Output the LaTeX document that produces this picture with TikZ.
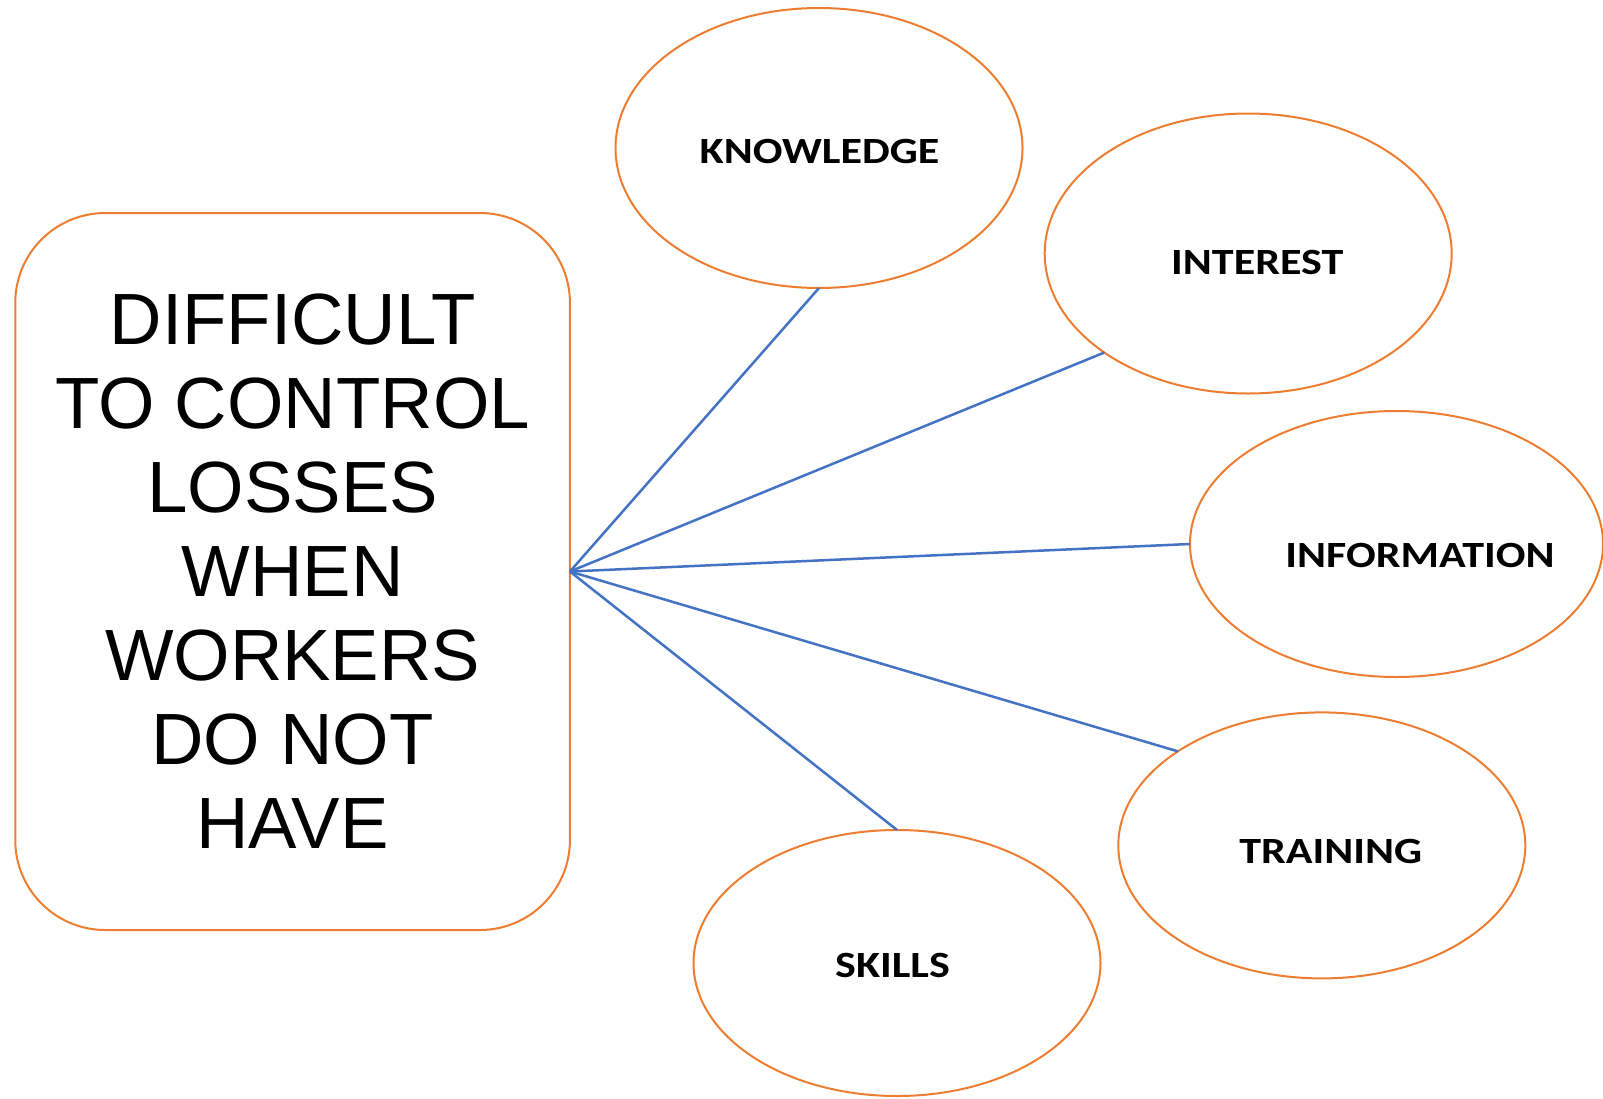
\documentclass[tikz,border=0pt]{standalone}
\usepackage{fontspec}
\setmainfont{Liberation Sans}
\newfontfamily\labelfont[FakeStretch=1.19]{Carlito}
\usetikzlibrary{shapes.geometric}
\definecolor{boxorange}{HTML}{ED7D31}
\definecolor{lineblue}{HTML}{4472C4}
\begin{document}
\begin{tikzpicture}[x=1pt,y=-1pt,
  bubble/.style={ellipse, draw=boxorange, line width=2pt, minimum width=407pt, inner sep=0pt, outer sep=0pt},
  bubbletext/.style={font=\labelfont\bfseries\fontsize{37}{44}\selectfont, inner sep=0pt},
  spoke/.style={draw=lineblue, line width=2.5pt},
  mainbox/.style={draw=boxorange, line width=2pt, rounded corners=90pt, inner sep=0pt, outer sep=0pt, align=center, font=\fontsize{72.6}{84}\selectfont}]
\useasboundingbox (0,0) rectangle (1603,1098);
\node[mainbox, minimum width=554.7pt, minimum height=717pt] (main) at (292.6,571.5)
  {DIFFICULT\\TO CONTROL\\LOSSES\\WHEN\\WORKERS\\DO NOT\\HAVE};
\node[bubble, minimum height=280pt, label={[bubbletext, xshift=0.5pt, yshift=-3.5pt]center:KNOWLEDGE}] (know) at (819,148) {};
\node[bubble, minimum height=280pt, label={[bubbletext, xshift=9pt, yshift=-9pt]center:INTEREST}] (inter) at (1248.2,253.5) {};
\node[bubble, minimum width=413pt, minimum height=266pt, label={[bubbletext, xshift=23.5pt, yshift=-11.5pt]center:INFORMATION}] (info) at (1396.5,544) {};
\node[bubble, minimum height=266pt, label={[bubbletext, xshift=9pt, yshift=-6pt]center:TRAINING}] (train) at (1321.8,845.4) {};
\node[bubble, minimum height=266pt, label={[bubbletext, xshift=-4.5pt, yshift=-2.5pt]center:SKILLS}] (skill) at (897,963) {};
\draw[spoke] (main.east) -- (know.south);
\draw[spoke] (main.east) -- (inter.south west);
\draw[spoke] (main.east) -- (info.west);
\draw[spoke] (main.east) -- (train.north west);
\draw[spoke] (main.east) -- (skill.north);
\end{tikzpicture}
\end{document}
